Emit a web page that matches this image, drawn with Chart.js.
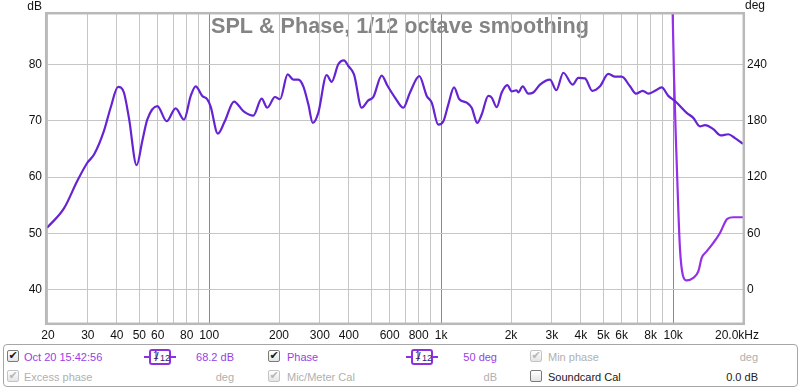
<!DOCTYPE html>
<html><head><meta charset="utf-8">
<script src="https://cdn.jsdelivr.net/npm/chart.js@4.4.0/dist/chart.umd.min.js"></script>
<style>
html,body{margin:0;padding:0;background:#fff;}
#wrap{position:relative;width:800px;height:389px;overflow:hidden;font-family:"Liberation Sans",Arial,sans-serif;}
#c{position:absolute;left:0;top:0;}
#panel{position:absolute;left:3px;top:344px;width:795px;height:43px;border:1px solid #a6a6a6;border-radius:4px;background:#fff;box-sizing:border-box;}
.t{position:absolute;font-size:11px;line-height:13px;white-space:nowrap;}
.r{text-align:right;}
.p{color:#9a3de4;}
.g{color:#b0b0b0;}
.k{color:#202020;}
.cb{position:absolute;width:12px;height:12px;box-sizing:border-box;border:1px solid #7a7a7a;border-radius:2px;background:linear-gradient(#ffffff,#e4e4e4);font-family:"DejaVu Sans",sans-serif;font-size:11px;line-height:10px;text-align:center;color:#1a1a1a;}
.cb.d{border-color:#c4c4c4;color:#b8b8b8;}
.ico{position:absolute;width:32px;height:16px;}
.ico .ln{position:absolute;left:0;right:0;top:7px;height:2px;background:#8e30e0;}
.ico .bx{position:absolute;left:5px;width:22px;top:0;height:16px;box-sizing:border-box;border:2px solid #8e30e0;border-radius:3px;background:#fff;color:#3a1670;}
.ico .n1{position:absolute;left:2px;top:0px;font-size:10px;line-height:10px;}
.ico .sl{position:absolute;left:4px;top:-1px;font-size:13px;line-height:13px;}
.ico .n2{position:absolute;left:9px;top:3px;font-size:9px;line-height:9px;}
</style>
</head><body>
<div id="wrap">
<canvas id="c" width="800" height="389"></canvas>
<div id="panel"></div>
<div class="cb" style="left:7px;top:350px">✔</div>
<div class="t p" style="left:24px;top:351px">Oct 20 15:42:56</div>
<div class="ico" style="left:144px;top:349px"><div class="ln"></div><div class="bx"><span class="n1">1</span><span class="sl">/</span><span class="n2">12</span></div></div>
<div class="t p r" style="right:566px;top:351px">68.2 dB</div>
<div class="cb" style="left:268px;top:350px">✔</div>
<div class="t p" style="left:287px;top:351px">Phase</div>
<div class="ico" style="left:406px;top:349px"><div class="ln"></div><div class="bx"><span class="n1">1</span><span class="sl">/</span><span class="n2">12</span></div></div>
<div class="t p r" style="right:303px;top:351px">50 deg</div>
<div class="cb d" style="left:530px;top:350px">✔</div>
<div class="t g" style="left:548px;top:351px">Min phase</div>
<div class="t g r" style="right:42px;top:351px">deg</div>

<div class="cb d" style="left:7px;top:370px">✔</div>
<div class="t g" style="left:24px;top:371px">Excess phase</div>
<div class="t g r" style="right:566px;top:371px">deg</div>
<div class="cb d" style="left:268px;top:370px">✔</div>
<div class="t g" style="left:287px;top:371px">Mic/Meter Cal</div>
<div class="t g r" style="right:303px;top:371px">dB</div>
<div class="cb" style="left:530px;top:370px"></div>
<div class="t k" style="left:548px;top:371px">Soundcard Cal</div>
<div class="t k r" style="right:42px;top:371px">0.0 dB</div>
</div>
<script>
// ---- data ----
const splFreq = [20, 23.7, 27.0, 29.8, 31.9, 35.2, 37.6, 40.5, 42.9, 45.1, 48.7, 51.5, 54.1, 59.8, 65.6, 71.7, 77.9, 83.3, 87.5, 93.4, 98.2, 101.5, 109, 116.5, 128, 140.4, 155, 168.4, 178, 192.2, 202, 218, 230.4, 242.2, 254.6, 267.6, 279.6, 295.4, 321, 337.4, 360.2, 381.2, 397.8, 421, 454.4, 485.2, 510, 554.4, 587, 632.5, 686.8, 734, 805, 866.4, 910.6, 972, 1022, 1074, 1136, 1198, 1289, 1354, 1431, 1495, 1597, 1652, 1736, 1824, 1928, 2014, 2116, 2150, 2246, 2374, 2496, 2667, 2946, 3136, 3362, 3690, 3900, 4169, 4482, 4838, 5254, 5614, 6001, 6516, 6916, 7392, 7814, 8352, 8926, 9528, 10184, 11438, 12212, 13052, 13716, 14894, 16028, 17282, 18472, 20000];
const splDb = [51.0, 54.5, 59.3, 62.5, 64.0, 68.2, 72.3, 76.0, 75.0, 70.5, 62.1, 66.4, 70.2, 72.6, 69.9, 72.2, 70.2, 74.4, 76.1, 74.4, 73.8, 72.5, 67.7, 69.8, 73.4, 71.7, 70.9, 73.9, 72.3, 74.2, 73.8, 78.2, 77.3, 77.3, 76.1, 72.9, 69.6, 71.4, 78.1, 76.9, 80.0, 80.7, 79.7, 78.2, 72.3, 73.6, 74.2, 78.0, 76.2, 74.1, 72.3, 75.0, 77.9, 74.4, 73.2, 69.3, 69.9, 72.9, 75.9, 73.8, 73.2, 72.3, 69.6, 71.1, 74.4, 74.1, 72.4, 75.0, 76.3, 75.2, 75.4, 75.0, 76.1, 74.8, 75.0, 76.4, 77.3, 75.4, 78.5, 76.4, 77.6, 77.5, 75.3, 76.1, 78.3, 77.8, 77.8, 76.1, 74.8, 75.3, 74.8, 75.3, 75.9, 74.4, 73.5, 71.4, 70.5, 69.0, 69.2, 68.5, 67.4, 67.6, 66.9, 65.9];
const phaseFreq = [9692, 9954, 10084, 10287, 10524, 10705, 10996, 11438, 12212, 12834, 13274, 13948, 14894, 15918, 17112, 18164, 20000];
const phaseDeg = [416, 293, 227.5, 156.6, 85.5, 42.8, 16.2, 10.1, 12.7, 19.7, 34.0, 41.0, 50.0, 60.6, 75.6, 77.3, 77.3];
const xGridValues = [20,30,40,50,60,70,80,90,100,200,300,400,500,600,700,800,900,1000,2000,3000,4000,5000,6000,7000,8000,9000,10000,20000];
const xDecades = [100, 1000, 10000];
const xLabelValues = [20,30,40,50,60,80,100,200,300,400,600,800,1000,2000,3000,4000,5000,6000,8000,10000,20000];
const xLabelTexts = ['20','30','40','50','60','80','100','200','300','400','600','800','1k','2k','3k','4k','5k','6k','8k','10k','20.0kHz'];
const dbTicks = [40,50,60,70,80];
const degTicks = [0,60,120,180,240];
const dbMin = 34.13, dbMax = 88.92;
const degMin = (dbMin-40)*6, degMax = (dbMax-40)*6;

const FONT = '"Liberation Sans", Arial, sans-serif';

const bgPlugin = {
  id: 'bg',
  beforeDraw(chart){
    const ctx = chart.ctx;
    ctx.save();
    ctx.font = 'bold 21.6px ' + FONT;
    ctx.fillStyle = '#848484';
    ctx.textAlign = 'center';
    ctx.textBaseline = 'alphabetic';
    ctx.fillText('SPL & Phase, 1/12 octave smoothing', 400, 33);
    ctx.font = '12px ' + FONT;
    ctx.fillStyle = '#111';
    ctx.textAlign = 'right';
    ctx.fillText('dB', 42, 10);
    ctx.textAlign = 'left';
    ctx.fillText('deg', 745, 9);
    ctx.restore();
  },
  afterDraw(chart){
    const ctx = chart.ctx, a = chart.chartArea, xs = chart.scales.x;
    ctx.save();
    ctx.strokeStyle = '#b9b9b9';
    ctx.lineWidth = 2.5;
    ctx.strokeRect(a.left-0.8, a.top-0.8, a.right-a.left+1.6, a.bottom-a.top+1.6);
    ctx.font = '12px ' + FONT;
    ctx.fillStyle = '#111';
    ctx.textAlign = 'center';
    ctx.textBaseline = 'alphabetic';
    xLabelValues.forEach((v,i)=>{
      let px = xs.getPixelForValue(v);
      if (i === xLabelValues.length-1) px -= 6;
      if (i === 0) px += 1;
      ctx.fillText(xLabelTexts[i], px, 339);
    });
    ctx.restore();
  }
};

new Chart(document.getElementById('c'), {
  type: 'line',
  data: {
    datasets: [
      {
        label: 'SPL',
        data: splFreq.map((f,i)=>({x:f, y:splDb[i]})),
        yAxisID: 'y',
        borderColor: '#6523d2',
        borderWidth: 2.2,
        pointRadius: 0,
        cubicInterpolationMode: 'monotone',
        fill: false
      },
      {
        label: 'Phase',
        data: phaseFreq.map((f,i)=>({x:f, y:phaseDeg[i]})),
        yAxisID: 'y2',
        borderColor: '#9430e6',
        borderWidth: 2.2,
        pointRadius: 0,
        cubicInterpolationMode: 'monotone',
        fill: false
      }
    ]
  },
  options: {
    responsive: false,
    animation: false,
    events: [],
    layout: { padding: { left: 0, right: 0, top: 14, bottom: 46 } },
    plugins: { legend: { display: false }, tooltip: { enabled: false }, title: { display: false } },
    scales: {
      x: {
        type: 'logarithmic',
        min: 20, max: 20000,
        afterBuildTicks(s){ s.ticks = xGridValues.map(v=>({value:v})); },
        afterFit(s){ s.height = 20; },
        ticks: { display: false },
        grid: {
          drawTicks: false,
          color: (c)=> xDecades.includes(c.tick && c.tick.value) ? '#8a8a8a' : '#c6c6c6',
          lineWidth: 1
        },
        border: { display: false }
      },
      y: {
        position: 'left',
        min: dbMin, max: dbMax,
        afterBuildTicks(s){ s.ticks = dbTicks.map(v=>({value:v})); },
        afterFit(s){ s.width = 47; },
        ticks: { padding: 5, color: '#111', font: { family: FONT, size: 12 }, includeBounds: false },
        grid: { drawTicks: false, color: '#c6c6c6', lineWidth: 1 },
        border: { display: false }
      },
      y2: {
        position: 'right',
        min: degMin, max: degMax,
        afterBuildTicks(s){ s.ticks = degTicks.map(v=>({value:v})); },
        afterFit(s){ s.width = 57; },
        ticks: { padding: 4, color: '#111', font: { family: FONT, size: 12 }, includeBounds: false },
        grid: { display: false, drawTicks: false },
        border: { display: false }
      }
    }
  },
  plugins: [bgPlugin]
});
</script>
</body></html>
